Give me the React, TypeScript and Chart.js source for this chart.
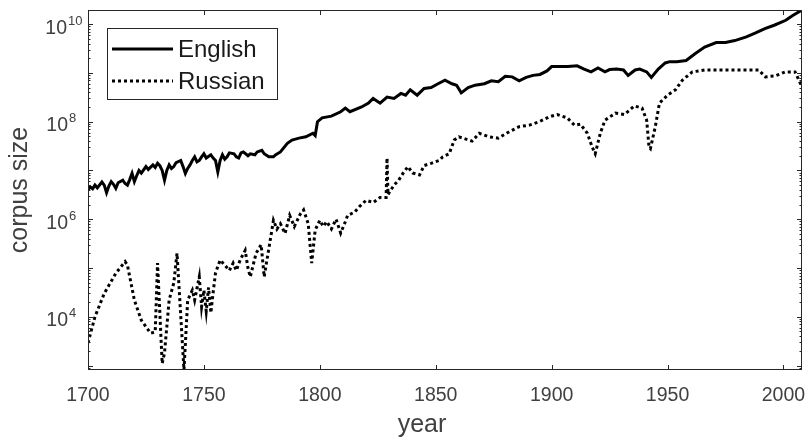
import { useEffect, useRef } from 'react';
import { Chart, registerables } from 'chart.js';

Chart.register(...registerables);

// ---- data ----
const englishYears = [
  1700, 1701, 1702, 1703, 1704, 1706, 1707, 1708, 1709, 1710,
  1711, 1712, 1713, 1715, 1716, 1717, 1718, 1719, 1720, 1721,
  1722, 1723, 1725, 1726, 1728, 1729, 1730, 1731, 1732, 1733,
  1734, 1735, 1736, 1737, 1738, 1740, 1741, 1742, 1743, 1744,
  1745, 1746, 1747, 1748, 1749, 1750, 1751, 1753, 1754, 1755,
  1756, 1757, 1758, 1759, 1760, 1761, 1763, 1764, 1765, 1766,
  1767, 1769, 1770, 1772, 1773, 1775, 1776, 1778, 1780, 1781,
  1783, 1786, 1788, 1791, 1794, 1797, 1798, 1799, 1801, 1805,
  1809, 1811, 1813, 1818, 1821, 1823, 1826, 1829, 1832, 1835,
  1837, 1839, 1842, 1845, 1848, 1851, 1854, 1857, 1859, 1861,
  1864, 1867, 1871, 1874, 1877, 1880, 1883, 1886, 1889, 1892,
  1895, 1898, 1900, 1903, 1907, 1911, 1914, 1917, 1920, 1923,
  1925, 1928, 1931, 1933, 1936, 1938, 1941, 1943, 1946, 1949,
  1951, 1954, 1958, 1962, 1966, 1971, 1975, 1979, 1984, 1988,
  1992, 1996, 2001, 2004, 2008,
];
const englishSizes = [
  4.0e6, 4.6e6, 4.2e6, 5.0e6, 4.4e6, 5.8e6, 5.0e6, 3.5e6, 4.8e6, 5.9e6,
  5.2e6, 4.3e6, 5.6e6, 6.3e6, 5.4e6, 5.0e6, 6.5e6, 8.7e6, 5.9e6, 7.8e6,
  1.0e7, 8.8e6, 1.2e7, 1.05e7, 1.3e7, 1.15e7, 1.4e7, 1.25e7, 1.0e7, 6.3e6,
  1.0e7, 1.3e7, 1.1e7, 1.2e7, 1.45e7, 1.6e7, 1.2e7, 8.7e6, 1.1e7, 1.3e7,
  1.6e7, 1.9e7, 1.5e7, 1.6e7, 1.9e7, 2.2e7, 1.8e7, 2.1e7, 1.8e7, 1.6e7,
  9.3e6, 1.6e7, 2.1e7, 1.7e7, 1.9e7, 2.3e7, 2.2e7, 1.9e7, 1.8e7, 2.3e7,
  2.4e7, 2.0e7, 2.2e7, 2.1e7, 2.4e7, 2.6e7, 2.2e7, 1.9e7, 1.9e7, 2.1e7,
  2.4e7, 3.6e7, 4.2e7, 4.6e7, 4.9e7, 5.8e7, 5.2e7, 1.0e8, 1.2e8, 1.3e8,
  1.6e8, 1.9e8, 1.6e8, 2.0e8, 2.4e8, 3.0e8, 2.4e8, 3.2e8, 3.0e8, 3.8e8,
  3.5e8, 4.5e8, 3.5e8, 4.8e8, 5.0e8, 6.0e8, 7.1e8, 6.0e8, 5.6e8, 3.9e8,
  5.0e8, 5.6e8, 6.0e8, 6.9e8, 6.6e8, 8.5e8, 8.3e8, 6.9e8, 8.1e8, 8.9e8,
  9.3e8, 1.1e9, 1.35e9, 1.35e9, 1.35e9, 1.4e9, 1.2e9, 1.05e9, 1.26e9, 1.05e9,
  1.17e9, 1.2e9, 1.15e9, 8.9e8, 1.15e9, 1.2e9, 1.05e9, 8.1e8, 1.2e9, 1.6e9,
  1.7e9, 1.7e9, 1.8e9, 2.5e9, 3.4e9, 4.2e9, 4.2e9, 4.6e9, 5.5e9, 6.6e9,
  8.1e9, 9.5e9, 1.2e10, 1.5e10, 1.95e10,
];

const russianYears = [
  1700, 1703, 1707, 1712, 1716, 1717, 1720, 1723, 1727, 1729,
  1730, 1732, 1733, 1735, 1737, 1738.4, 1741.4, 1743, 1745, 1746,
  1748, 1749, 1750, 1751, 1752, 1753, 1754, 1755, 1757, 1759,
  1761, 1762.6, 1764, 1765.6, 1767.8, 1769, 1770, 1772.5, 1774.7, 1776,
  1778.6, 1780, 1781.5, 1783, 1785, 1787, 1789, 1790, 1791.5, 1793,
  1795, 1796.5, 1798, 1800, 1801.5, 1803, 1805, 1807, 1809, 1811,
  1812, 1815, 1817, 1820, 1823, 1826, 1828.6, 1829, 1829.4, 1832,
  1834, 1836, 1838, 1840, 1843, 1845, 1848, 1851.5, 1853, 1855.8,
  1858, 1860, 1863, 1865.7, 1868.8, 1873, 1877, 1881.7, 1886, 1890.4,
  1894.7, 1899, 1902.4, 1906.7, 1909.8, 1912.4, 1915.4, 1917.5, 1918.8, 1921,
  1923, 1927.5, 1931.4, 1935.7, 1939, 1941, 1942, 1942.6, 1944.7, 1946.5,
  1950, 1953.4, 1956.4, 1960.7, 1966, 1972, 1978, 1983.6, 1989.3, 1992.2,
  1996.5, 2000.8, 2005, 2008,
];
const russianSizes = [
  2.9e3, 1.0e4, 3.0e4, 7.8e4, 1.35e5, 1.15e5, 2.2e4, 8.5e3, 4.6e3, 4.9e3,
  1.26e5, 1.1e3, 1.8e3, 2.2e4, 4.9e4, 2.0e5, 8.1e2, 2.2e4, 3.5e4, 2.2e4,
  6.6e4, 1.6e4, 3.5e4, 1.3e4, 4.0e4, 1.2e4, 3.2e4, 7.9e4, 1.45e5, 1.15e5,
  8.9e4, 1.26e5, 8.9e4, 1.45e5, 2.3e5, 1.0e5, 6.6e4, 2.0e5, 3.0e5, 6.6e4,
  3.7e5, 9.5e5, 6.3e5, 8.1e5, 5.1e5, 1.2e6, 7.1e5, 8.9e5, 1.26e6, 1.55e6,
  8.1e5, 1.26e5, 6.0e5, 9.5e5, 7.1e5, 8.9e5, 6.3e5, 1.0e6, 5.2e5, 8.9e5,
  1.2e6, 1.4e6, 1.8e6, 2.45e6, 2.2e6, 2.8e6, 2.8e6, 1.8e7, 3.2e6, 5.0e6,
  6.3e6, 8.9e6, 1.2e7, 8.9e6, 8.1e6, 1.26e7, 1.4e7, 1.6e7, 1.9e7, 2.2e7,
  4.2e7, 4.9e7, 4.4e7, 4.0e7, 5.8e7, 4.9e7, 4.6e7, 6.2e7, 7.9e7, 8.5e7,
  1.0e8, 1.26e8, 1.4e8, 1.2e8, 8.5e7, 8.9e7, 5.8e7, 3.0e7, 2.2e7, 5.8e7,
  1.07e8, 1.5e8, 1.4e8, 2.1e8, 1.9e8, 1.07e8, 3.0e7, 2.8e7, 7.8e7, 2.4e8,
  3.5e8, 4.5e8, 7.1e8, 1.05e9, 1.15e9, 1.15e9, 1.15e9, 1.15e9, 1.15e9, 8.3e8,
  8.7e8, 1.05e9, 1.05e9, 5.2e8,
];

const xTickYears = [1700, 1750, 1800, 1850, 1900, 1950, 2000];
const yLabelExponents = [4, 6, 8, 10];
const xLimits = [1700, 2008];
const yLimits = [8.1e2, 1.95e10];
const seriesNames = ['English', 'Russian'];
const xTitle = 'year';
const yTitle = 'corpus size';

const FONT = '"Liberation Sans", Arial, Helvetica, sans-serif';
const AXIS_COLOR = '#262626';
const TEXT_COLOR = '#404040';

const matlabAxes = {
  id: 'matlabAxes',
  afterDraw(chart: any) {
    const { ctx, chartArea: a, scales } = chart;
    const xs = scales.x;
    const ys = scales.y;
    ctx.save();

    // axes box
    ctx.strokeStyle = AXIS_COLOR;
    ctx.lineWidth = 1;
    ctx.setLineDash([]);
    ctx.strokeRect(a.left + 0.5, a.top + 0.5, a.right - a.left - 1, a.bottom - a.top - 1);

    // ticks (inward, both sides)
    ctx.beginPath();
    xTickYears.forEach((yr) => {
      const px = Math.round(xs.getPixelForValue(yr)) + 0.5;
      ctx.moveTo(px, a.bottom);
      ctx.lineTo(px, a.bottom - 5);
      ctx.moveTo(px, a.top);
      ctx.lineTo(px, a.top + 5);
    });
    for (let e = 2; e <= 10; e++) {
      for (let m = 1; m <= 9; m++) {
        const v = m * Math.pow(10, e);
        if (v < ys.min || v > ys.max) continue;
        const py = Math.round(ys.getPixelForValue(v)) + 0.5;
        const len = m === 1 ? 5 : 2.5;
        ctx.moveTo(a.left, py);
        ctx.lineTo(a.left + len, py);
        ctx.moveTo(a.right, py);
        ctx.lineTo(a.right - len, py);
      }
    }
    ctx.stroke();

    // x tick labels
    ctx.fillStyle = TEXT_COLOR;
    ctx.font = `19.5px ${FONT}`;
    ctx.textAlign = 'center';
    ctx.textBaseline = 'alphabetic';
    xTickYears.forEach((yr) => {
      ctx.fillText(String(yr), xs.getPixelForValue(yr), a.bottom + 31);
    });

    // y tick labels 10^n
    yLabelExponents.forEach((e) => {
      const py = ys.getPixelForValue(Math.pow(10, e));
      const exp = String(e);
      const baseRight = exp.length > 1 ? a.left - 21 : a.left - 20;
      ctx.font = `19.5px ${FONT}`;
      ctx.textAlign = 'right';
      ctx.fillText('10', baseRight, py + 9.5);
      ctx.font = `13px ${FONT}`;
      ctx.textAlign = 'left';
      ctx.fillText(exp, baseRight + 1, py + 0.5);
    });

    // axis titles
    ctx.font = `25px ${FONT}`;
    ctx.textAlign = 'center';
    ctx.textBaseline = 'alphabetic';
    ctx.fillText(xTitle, 422, 432);
    ctx.save();
    ctx.translate(27, (a.top + a.bottom) / 2);
    ctx.rotate(-Math.PI / 2);
    ctx.fillText(yTitle, 0, 0);
    ctx.restore();

    // legend
    const lx = a.left + 19;
    const ly = a.top + 18;
    const lw = 171;
    const lh = 72;
    ctx.fillStyle = '#ffffff';
    ctx.fillRect(lx, ly, lw, lh);
    ctx.strokeStyle = AXIS_COLOR;
    ctx.lineWidth = 1;
    ctx.strokeRect(lx + 0.5, ly + 0.5, lw - 1, lh - 1);
    chart.data.datasets.forEach((ds: any, i: number) => {
      const cy = ly + 21 + i * 32;
      ctx.beginPath();
      ctx.strokeStyle = ds.borderColor;
      ctx.lineWidth = ds.borderWidth;
      ctx.setLineDash(ds.borderDash || []);
      ctx.moveTo(lx + 5, cy);
      ctx.lineTo(lx + 66, cy);
      ctx.stroke();
      ctx.setLineDash([]);
      ctx.fillStyle = '#1a1a1a';
      ctx.font = `24px ${FONT}`;
      ctx.textAlign = 'left';
      ctx.textBaseline = 'middle';
      ctx.fillText(ds.label, lx + 71, cy + 1);
    });

    ctx.restore();
  },
};

export default function App() {
  const ref = useRef<HTMLCanvasElement>(null);
  useEffect(() => {
    document.body.style.margin = '0';
    const english = englishYears.map((yr, i) => ({ x: yr, y: englishSizes[i] }));
    const russian = russianYears.map((yr, i) => ({ x: yr, y: russianSizes[i] }));
    const chart = new Chart(ref.current as HTMLCanvasElement, {
      type: 'line',
      data: {
        datasets: [
          {
            label: seriesNames[0],
            data: english,
            borderColor: '#000000',
            borderWidth: 3,
            pointRadius: 0,
            tension: 0,
            fill: false,
          },
          {
            label: seriesNames[1],
            data: russian,
            borderColor: '#000000',
            borderWidth: 3,
            borderDash: [3, 3],
            pointRadius: 0,
            tension: 0,
            fill: false,
          },
        ],
      },
      options: {
        animation: false,
        responsive: false,
        maintainAspectRatio: false,
        events: [],
        layout: { padding: { top: 10, right: 4, left: 0, bottom: 0 } },
        plugins: { legend: { display: false }, tooltip: { enabled: false } },
        scales: {
          x: {
            type: 'linear',
            min: xLimits[0],
            max: xLimits[1],
            grid: { display: false },
            border: { display: false },
            ticks: { display: false },
            afterFit: (s: any) => {
              s.height = 72;
            },
          },
          y: {
            type: 'logarithmic',
            min: yLimits[0],
            max: yLimits[1],
            grid: { display: false },
            border: { display: false },
            ticks: { display: false },
            afterFit: (s: any) => {
              s.width = 88;
            },
          },
        },
      },
      plugins: [matlabAxes],
    } as any);
    return () => chart.destroy();
  }, []);
  return (
    <div style={{ width: 806, height: 442 }}>
      <canvas ref={ref} width={806} height={442} style={{ display: 'block' }} />
    </div>
  );
}
